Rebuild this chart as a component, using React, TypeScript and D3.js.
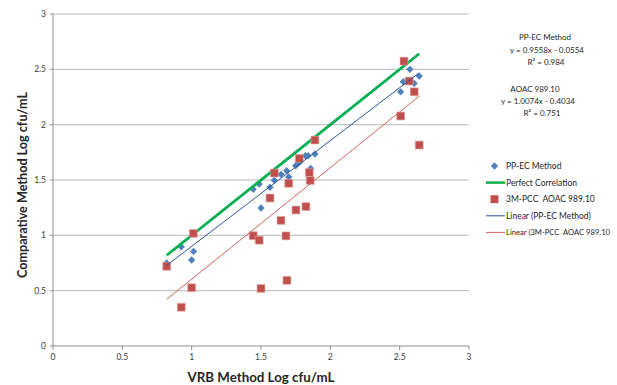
import React from "react";
import * as d3 from "d3";

// VRB (x) vs comparative method (y), log cfu/mL
const ppecX = [0.82, 0.925, 1.0, 1.014, 1.444, 1.487, 1.5, 1.565, 1.596, 1.644, 1.685, 1.7, 1.75, 1.774, 1.82, 1.84, 1.858, 1.889, 2.507, 2.526, 2.56, 2.574, 2.605, 2.641];
const ppecY = [0.75, 0.897, 0.777, 0.855, 1.416, 1.463, 1.247, 1.434, 1.497, 1.551, 1.584, 1.527, 1.629, 1.656, 1.719, 1.72, 1.605, 1.734, 2.297, 2.388, 2.39, 2.5, 2.373, 2.439];
const pccX = [0.82, 0.925, 1.0, 1.012, 1.444, 1.487, 1.5, 1.565, 1.596, 1.644, 1.68, 1.687, 1.7, 1.752, 1.776, 1.824, 1.848, 1.855, 1.889, 2.507, 2.531, 2.569, 2.605, 2.641];
const pccY = [0.72, 0.35, 0.527, 1.017, 0.997, 0.956, 0.52, 1.337, 1.563, 1.135, 0.995, 0.593, 1.47, 1.229, 1.695, 1.26, 1.567, 1.496, 1.861, 2.078, 2.574, 2.394, 2.297, 1.816];

const ppecFit = { slope: 0.9558, intercept: -0.0554 };
const pccFit = { slope: 1.0074, intercept: -0.4034 };

const xTicks = [0, 0.5, 1, 1.5, 2, 2.5, 3];
const yTicks = [0, 0.5, 1, 1.5, 2, 2.5, 3];

const annotationLines = [
  { text: "PP-EC Method", cx: 545, y: 37 },
  { text: "y = 0.9558x - 0.0554", cx: 547, y: 50 },
  { text: "R² = 0.984", cx: 546, y: 62 },
  { text: "AOAC 989.10", cx: 535, y: 89 },
  { text: "y = 1.0074x - 0.4034", cx: 538, y: 101 },
  { text: "R² = 0.751", cx: 542, y: 113 },
];

const legendItems = [
  { label: "PP-EC Method", kind: "diamond" },
  { label: "Perfect Correlation", kind: "green" },
  { label: "3M-PCC  AOAC 989.10", kind: "square" },
  { label: "Linear (PP-EC Method)", kind: "blueline" },
  { label: "Linear (3M-PCC  AOAC 989.10", kind: "redline" },
];

const BLUE = "#4F81BD";
const RED = "#C0504D";
const GREEN = "#00B050";
const FONT = "Lato, 'Open Sans', sans-serif";

export default function App() {
  const W = 617, H = 385;
  const x = d3.scaleLinear().domain([0, 3]).range([53, 469]);
  const y = d3.scaleLinear().domain([0, 3]).range([346, 14]);

  const diamond = d3.symbol().type(d3.symbolDiamond2).size(34)()!;
  const square = d3.symbol().type(d3.symbolSquare).size(62)()!;

  const xMin = d3.min(ppecX)!;
  const xMax = d3.max(ppecX)!;
  const line = d3.line<[number, number]>().x((d) => x(d[0])).y((d) => y(d[1]));
  const fitLine = (f: { slope: number; intercept: number }) =>
    line([
      [xMin, f.slope * xMin + f.intercept],
      [xMax, f.slope * xMax + f.intercept],
    ])!;
  const perfect = line([
    [xMin, xMin],
    [xMax, xMax],
  ])!;

  const legendX = 486;
  const legendY0 = 166;
  const legendDy = 16.6;

  return (
    <svg
      width={W}
      height={H}
      style={{ position: "absolute", left: 0, top: 0, background: "#fff" }}
      fontFamily={FONT}
    >
      <rect width={W} height={H} fill="#fff" />
      {/* gridlines */}
      {yTicks.map((t) => (
        <g key={"gy" + t}>
          <line x1={x(0)} x2={x(3)} y1={y(t)} y2={y(t)} stroke={t === 0 ? "#8E8E8E" : "#B8B8B8"} strokeWidth={1} />
          <line x1={x(0) - 3} x2={x(0)} y1={y(t)} y2={y(t)} stroke="#8E8E8E" />
          <text x={46} y={y(t)} dy="0.35em" textAnchor="end" fontSize={8.5} fill="#404040">
            {t}
          </text>
        </g>
      ))}
      <line x1={x(0)} x2={x(0)} y1={y(0)} y2={y(3)} stroke="#8E8E8E" />
      {xTicks.map((t) => (
        <g key={"gx" + t}>
          <line x1={x(t)} x2={x(t)} y1={y(0)} y2={y(0) + 4} stroke="#8E8E8E" />
          <text x={x(t)} y={357} dy="0.35em" textAnchor="middle" fontSize={8.5} fill="#404040">
            {t}
          </text>
        </g>
      ))}

      {/* axis titles */}
      <text x={261} y={377} dy="0.35em" textAnchor="middle" fontSize={13} fontWeight="bold" fill="#262626" textLength={147} lengthAdjust="spacingAndGlyphs">
        VRB Method Log cfu/mL
      </text>
      <text transform="translate(22,185) rotate(-90)" dy="0.35em" textAnchor="middle" fontSize={13} fontWeight="bold" fill="#262626" textLength={186} lengthAdjust="spacingAndGlyphs">
        Comparative Method Log cfu/mL
      </text>

      {/* PP-EC markers */}
      {ppecX.map((v, i) => (
        <path key={"d" + i} d={diamond} transform={`translate(${x(v)},${y(ppecY[i])})`} fill={BLUE} />
      ))}
      {/* perfect correlation */}
      <path d={perfect} stroke={GREEN} strokeWidth={2.8} fill="none" />
      {/* 3M-PCC markers */}
      {pccX.map((v, i) => (
        <path key={"s" + i} d={square} transform={`translate(${x(v)},${y(pccY[i])})`} fill={RED} stroke="#E2A3A1" strokeWidth={0.6} />
      ))}
      {/* trendlines */}
      <path d={fitLine(ppecFit)} stroke="#2F5597" strokeWidth={1} fill="none" />
      <path d={fitLine(pccFit)} stroke="#D0625E" strokeWidth={1} fill="none" />

      {/* equations */}
      {annotationLines.map((a, i) => (
        <text key={"a" + i} x={a.cx} y={a.y} dy="0.35em" textAnchor="middle" fontSize={8} fill="#262626">
          {a.text}
        </text>
      ))}

      {/* legend */}
      {legendItems.map((it, i) => {
        const ly = legendY0 + i * legendDy;
        let sym: React.ReactNode = null;
        if (it.kind === "diamond") sym = <path d={diamond} transform={`translate(${legendX + 8.5},${ly})`} fill={BLUE} />;
        if (it.kind === "square") sym = <path d={square} transform={`translate(${legendX + 8.5},${ly})`} fill={RED} />;
        if (it.kind === "green") sym = <line x1={legendX} x2={legendX + 19} y1={ly} y2={ly} stroke={GREEN} strokeWidth={2.5} />;
        if (it.kind === "blueline") sym = <line x1={legendX} x2={legendX + 19} y1={ly} y2={ly} stroke="#2F5597" strokeWidth={1} />;
        if (it.kind === "redline") sym = <line x1={legendX} x2={legendX + 19} y1={ly} y2={ly} stroke="#D0625E" strokeWidth={1} />;
        const isLast = i === legendItems.length - 1;
        return (
          <g key={"l" + i}>
            {sym}
            <text
              x={506}
              y={ly}
              dy="0.35em"
              fontSize={isLast ? 8.2 : 8.5}
              fill="#262626"
              style={{ whiteSpace: "pre" }}
              textLength={isLast ? 104 : undefined}
              lengthAdjust={isLast ? "spacingAndGlyphs" : undefined}
            >
              {it.label}
            </text>
          </g>
        );
      })}
    </svg>
  );
}
